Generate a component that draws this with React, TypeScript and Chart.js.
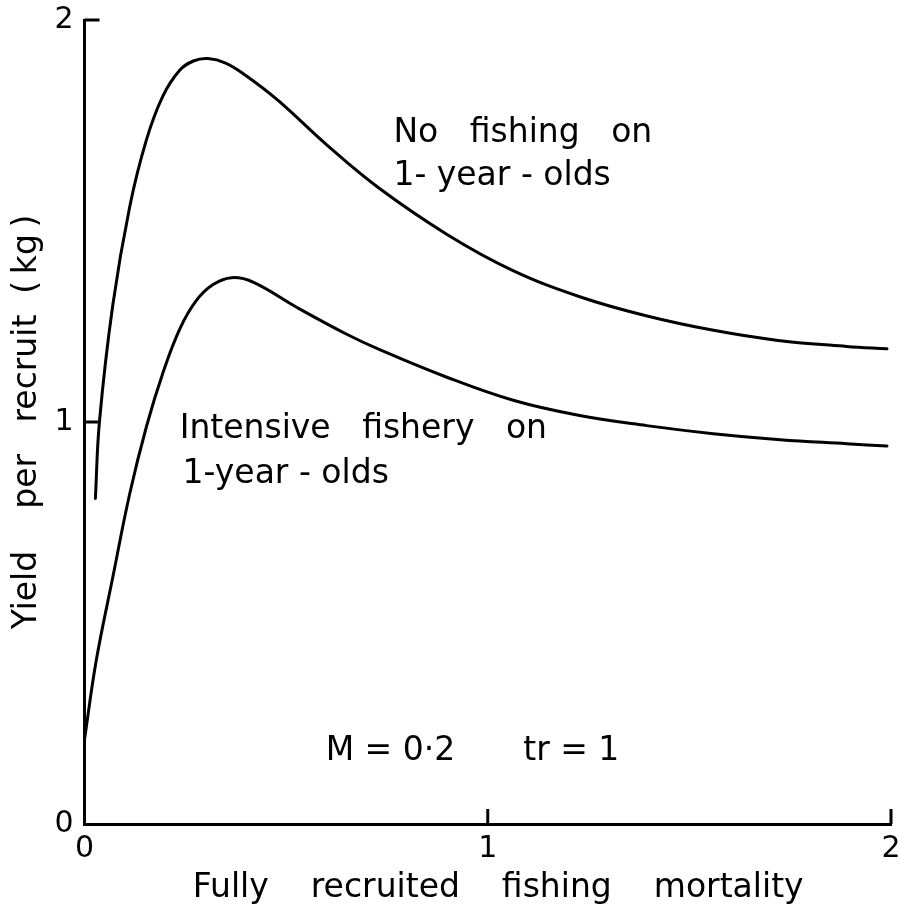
import { useEffect, useRef } from "react";
import { Chart, registerables } from "chart.js";

Chart.register(...registerables);

// ---- Data ----
const fNoFishing = [0.027, 0.037, 0.07, 0.112, 0.153, 0.194, 0.236, 0.27, 0.306, 0.35, 0.4, 0.48, 0.6, 0.73, 0.9, 1.06, 1.23, 1.39, 1.56, 1.72, 1.89, 1.99];
const yieldNoFishing = [0.81, 1.0, 1.29, 1.535, 1.7, 1.81, 1.875, 1.898, 1.904, 1.893, 1.862, 1.8, 1.69, 1.582, 1.466, 1.378, 1.311, 1.265, 1.228, 1.203, 1.188, 1.182];

const fIntensive = [0.0, 0.029, 0.07, 0.112, 0.154, 0.195, 0.237, 0.278, 0.319, 0.365, 0.418, 0.525, 0.649, 0.732, 0.897, 1.063, 1.228, 1.394, 1.559, 1.725, 1.89, 1.99];
const yieldIntensive = [0.21, 0.406, 0.613, 0.821, 0.99, 1.124, 1.233, 1.303, 1.342, 1.359, 1.348, 1.286, 1.219, 1.18, 1.112, 1.054, 1.016, 0.991, 0.971, 0.956, 0.946, 0.94];

const xTickValues = [0, 1, 2];
const yTickValues = [0, 1, 2];
const innerTickValues = [1, 2];

const xTitle = "  Fully    recruited    fishing    mortality";
const yTitle = "Yield    per   recruit  (\u2009kg\u2009)";
const labelNoFishing = ["No   fishing   on", "1- year - olds"];
const labelIntensive = ["Intensive   fishery   on", "1-year - olds"];
const labelParams = ["M = 0\u00B72", "tr = 1"];

const FONT = '"DejaVu Sans", "Liberation Sans", sans-serif';

const toPoints = (xs: number[], ys: number[]) => xs.map((x, i) => ({ x, y: ys[i] }));

const decorPlugin = {
  id: "decor",
  afterDraw(chart: any) {
    const { ctx, chartArea, scales } = chart;
    const xs = scales.x;
    const ys = scales.y;
    ctx.save();
    // inward tick marks
    ctx.strokeStyle = "#000";
    ctx.lineWidth = 3;
    ctx.lineCap = "butt";
    const tickLen = 15;
    innerTickValues.forEach((v) => {
      const py = ys.getPixelForValue(v);
      ctx.beginPath();
      ctx.moveTo(chartArea.left, py);
      ctx.lineTo(chartArea.left + tickLen, py);
      ctx.stroke();
      const px = xs.getPixelForValue(v);
      ctx.beginPath();
      ctx.moveTo(px, chartArea.bottom);
      ctx.lineTo(px, chartArea.bottom - tickLen);
      ctx.stroke();
    });
    // annotations
    ctx.fillStyle = "#000";
    ctx.font = `33px ${FONT}`;
    ctx.textAlign = "left";
    ctx.textBaseline = "alphabetic";
    const put = (t: string, dx: number, dy: number) =>
      ctx.fillText(t, xs.getPixelForValue(dx), ys.getPixelForValue(dy));
    put(labelNoFishing[0], 0.766, 1.697);
    put(labelNoFishing[1], 0.766, 1.590);
    put(labelIntensive[0], 0.236, 0.960);
    put(labelIntensive[1], 0.243, 0.848);
    put(labelParams[0], 0.598, 0.159);
    put(labelParams[1], 1.088, 0.159);
    ctx.restore();
  },
};

export default function App() {
  const canvasRef = useRef<HTMLCanvasElement | null>(null);

  useEffect(() => {
    if (!canvasRef.current) return;
    const lineStyle = {
      borderColor: "#000",
      borderWidth: 3,
      pointRadius: 0,
      fill: false,
      tension: 0.4,
      borderCapStyle: "round",
      borderJoinStyle: "round",
    };
    const chart = new Chart(canvasRef.current, {
      type: "line",
      data: {
        datasets: [
          {
            label: "No fishing on 1-year-olds",
            data: toPoints(fNoFishing, yieldNoFishing),
            ...lineStyle,
          },
          {
            label: "Intensive fishery on 1-year-olds",
            data: toPoints(fIntensive, yieldIntensive),
            ...lineStyle,
          },
        ],
      },
      options: {
        animation: false,
        responsive: false,
        devicePixelRatio: 1,
        layout: { padding: { top: 20, right: 9, bottom: 0, left: 0 } },
        plugins: {
          legend: { display: false },
          tooltip: { enabled: false },
        },
        scales: {
          x: {
            type: "linear",
            min: 0,
            max: 2,
            afterBuildTicks: (scale: any) => {
              scale.ticks = xTickValues.map((v) => ({ value: v }));
            },
            afterFit: (scale: any) => {
              scale.height = 88;
              scale.paddingLeft = 0;
              scale.paddingRight = 0;
            },
            grid: { display: false, drawTicks: false },
            border: { display: true, color: "#000", width: 3 },
            ticks: {
              color: "#000",
              font: { family: FONT, size: 30 },
              padding: 7,
              maxRotation: 0,
            },
            title: {
              display: true,
              text: xTitle,
              color: "#000",
              font: { family: FONT, size: 33 },
              padding: { top: 0, bottom: 4 },
            },
          },
          y: {
            type: "linear",
            min: 0,
            max: 2,
            afterBuildTicks: (scale: any) => {
              scale.ticks = yTickValues.map((v) => ({ value: v }));
            },
            afterFit: (scale: any) => {
              scale.width = 84.5;
              scale.paddingTop = 0;
              scale.paddingBottom = 0;
            },
            grid: { display: false, drawTicks: false },
            border: { display: true, color: "#000", width: 3 },
            ticks: {
              color: "#000",
              font: { family: FONT, size: 30 },
              padding: 11,
            },
            title: {
              display: true,
              text: yTitle,
              color: "#000",
              font: { family: FONT, size: 33 },
              padding: { top: 8, bottom: 0 },
            },
          },
        },
      },
      plugins: [decorPlugin],
    } as any);
    return () => chart.destroy();
  }, []);

  return (
    <div style={{ position: "absolute", left: 0, top: 0, width: 900, height: 912, background: "#fff" }}>
      <canvas ref={canvasRef} width={900} height={912} style={{ display: "block" }} />
    </div>
  );
}
